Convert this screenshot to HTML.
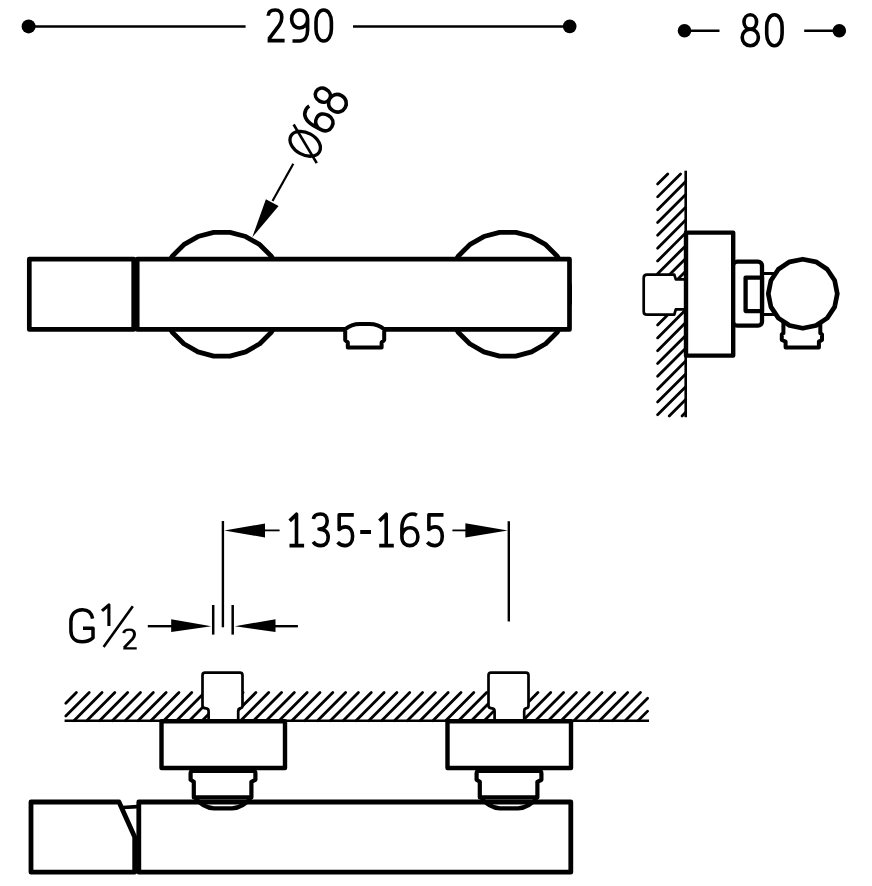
<!DOCTYPE html>
<html><head><meta charset="utf-8"><style>
html,body{margin:0;padding:0;background:#fff;}
svg{display:block;}
</style></head><body>
<svg width="872" height="886" viewBox="0 0 872 886">
<rect width="872" height="886" fill="#fff"/>
<line x1="28.6" y1="26.4" x2="245.6" y2="26.4" stroke="#000" stroke-width="2.5" stroke-linecap="butt"/>
<line x1="353" y1="26.4" x2="569.7" y2="26.4" stroke="#000" stroke-width="2.5" stroke-linecap="butt"/>
<circle cx="28.6" cy="26.4" r="7.0" fill="#000"/>
<circle cx="569.7" cy="26.4" r="6.8" fill="#000"/>
<path transform="translate(268.2,10.0) scale(1.0,1.0) " d="M0,5.8 C0.1,1.9 3,0 7,0 C11.2,0 13.6,2.6 13.6,7.4 C13.6,10.6 12.8,12.8 11,15.4 L0.6,29.2 M-0.6,30.6 L16.4,30.6" fill="none" stroke="#000" stroke-width="3.600" stroke-linecap="butt" stroke-linejoin="round"/>
<path transform="translate(291.6,10.0) scale(1.0,1.0) " d="M16,9 C16,3.6 12.6,0 8,0 C3.4,0 0,3.6 0,9 C0,14.4 3.4,18 8,18 C12.4,18 16,14.6 16,9 L16,20 C16,26.5 13,31 8,31 L0.9,31" fill="none" stroke="#000" stroke-width="3.600" stroke-linecap="butt" stroke-linejoin="round"/>
<path transform="translate(316.0,10.0) scale(1.0,1.0) " d="M7.7,0 C12.2,0 15.4,5 15.4,12 L15.4,19 C15.4,26 12.2,31 7.7,31 C3.2,31 0,26 0,19 L0,12 C0,5 3.2,0 7.7,0 Z" fill="none" stroke="#000" stroke-width="3.600" stroke-linecap="butt" stroke-linejoin="round"/>
<line x1="684.5" y1="30.8" x2="719.5" y2="30.8" stroke="#000" stroke-width="2.5" stroke-linecap="butt"/>
<line x1="804.2" y1="30.8" x2="839.3" y2="30.8" stroke="#000" stroke-width="2.5" stroke-linecap="butt"/>
<circle cx="684.5" cy="30.8" r="6.8" fill="#000"/>
<circle cx="839.3" cy="30.8" r="6.8" fill="#000"/>
<path transform="translate(742.3,14.8) scale(1.0,0.996774193548387) " d="M8,14.4 C4.4,14.4 1.7,11.4 1.7,7.2 C1.7,3 4.4,0 8,0 C11.6,0 14.3,3 14.3,7.2 C14.3,11.4 11.6,14.4 8,14.4 C3.4,14.4 -0.1,17.8 -0.1,22.6 C-0.1,27.6 3.4,31 8,31 C12.6,31 16.1,27.6 16.1,22.6 C16.1,17.8 12.6,14.4 8,14.4 Z" fill="none" stroke="#000" stroke-width="3.600" stroke-linecap="butt" stroke-linejoin="round"/>
<path transform="translate(766.7,14.8) scale(1.0,0.996774193548387) " d="M7.7,0 C12.2,0 15.4,5 15.4,12 L15.4,19 C15.4,26 12.2,31 7.7,31 C3.2,31 0,26 0,19 L0,12 C0,5 3.2,0 7.7,0 Z" fill="none" stroke="#000" stroke-width="3.600" stroke-linecap="butt" stroke-linejoin="round"/>
<polygon points="283.67,302.34 279.45,318.08 271.31,332.19 259.79,343.71 245.68,351.85 229.94,356.07 213.66,356.07 197.92,351.85 183.81,343.71 172.29,332.19 164.15,318.08 159.93,302.34 159.93,286.06 164.15,270.32 172.29,256.21 183.81,244.69 197.92,236.55 213.66,232.33 229.94,232.33 245.68,236.55 259.79,244.69 271.31,256.21 279.45,270.32 283.67,286.06" fill="none" stroke="#000" stroke-width="4.8" stroke-linejoin="round"/>
<polygon points="569.57,302.34 565.35,318.08 557.21,332.19 545.69,343.71 531.58,351.85 515.84,356.07 499.56,356.07 483.82,351.85 469.71,343.71 458.19,332.19 450.05,318.08 445.83,302.34 445.83,286.06 450.05,270.32 458.19,256.21 469.71,244.69 483.82,236.55 499.56,232.33 515.84,232.33 531.58,236.55 545.69,244.69 557.21,256.21 565.35,270.32 569.57,286.06" fill="none" stroke="#000" stroke-width="4.8" stroke-linejoin="round"/>
<rect x="137.2" y="259.2" width="432.3" height="70.2" rx="0" fill="#fff" stroke="#000" stroke-width="4.7" stroke-linejoin="round"/>
<rect x="29.3" y="259.2" width="104.4" height="70.2" rx="0" fill="#fff" stroke="#000" stroke-width="4.7" stroke-linejoin="round"/>
<path d="M345.2,329.3 L345.2,340 L347.8,342.5 L347.8,347.6 L381.6,347.6 L381.6,342.5 L384.2,340 L384.2,329.3 C381,326.5 375,324.1 369.3,324.1 L359.7,324.1 C354,324.1 348.5,326.5 345.2,329.3 Z" fill="#fff" stroke="#000" stroke-width="4.0" stroke-linecap="butt" stroke-linejoin="round"/>
<line x1="293.3" y1="163.7" x2="272.5" y2="201.0" stroke="#000" stroke-width="2.2" stroke-linecap="butt"/>
<polygon points="252.2,237.4 265.9,199.3 278.6,205.9" fill="#000"/>
<g transform="translate(305.2,143.8) rotate(-61)">
<ellipse cx="0" cy="0" rx="11" ry="16.3" fill="none" stroke="#000" stroke-width="3.3"/>
<line x1="11.3" y1="-19.5" x2="-11.3" y2="19.5" stroke="#000" stroke-width="2.6"/>
<path transform="translate(20,-16) scale(1.0,1.0) " d="M15,1.2 C13.6,0.4 12.2,0 10.6,0 C4.2,0 0,5.4 0,14 L0,22.4 C0,28.2 3.4,31 8,31 C12.7,31 16,27.8 16,22.4 C16,16.9 12.9,13.5 8.4,13.5 C4.2,13.5 1.2,16.2 0,20.5" fill="none" stroke="#000" stroke-width="3.600" stroke-linecap="butt" stroke-linejoin="round"/>
<path transform="translate(42.5,-15.8) scale(1.07,1.07) " d="M8,14.4 C4.4,14.4 1.7,11.4 1.7,7.2 C1.7,3 4.4,0 8,0 C11.6,0 14.3,3 14.3,7.2 C14.3,11.4 11.6,14.4 8,14.4 C3.4,14.4 -0.1,17.8 -0.1,22.6 C-0.1,27.6 3.4,31 8,31 C12.6,31 16.1,27.6 16.1,22.6 C16.1,17.8 12.6,14.4 8,14.4 Z" fill="none" stroke="#000" stroke-width="3.364" stroke-linecap="butt" stroke-linejoin="round"/>
</g>
<line x1="657.60" y1="184.05" x2="667.75" y2="173.90" stroke="#000" stroke-width="2.8" stroke-linecap="round"/>
<line x1="657.60" y1="196.87" x2="680.57" y2="173.90" stroke="#000" stroke-width="2.8" stroke-linecap="round"/>
<line x1="657.60" y1="209.69" x2="685.70" y2="181.59" stroke="#000" stroke-width="2.8" stroke-linecap="round"/>
<line x1="657.60" y1="222.51" x2="685.70" y2="194.41" stroke="#000" stroke-width="2.8" stroke-linecap="round"/>
<line x1="657.60" y1="235.33" x2="685.70" y2="207.23" stroke="#000" stroke-width="2.8" stroke-linecap="round"/>
<line x1="657.60" y1="248.15" x2="685.70" y2="220.05" stroke="#000" stroke-width="2.8" stroke-linecap="round"/>
<line x1="657.60" y1="260.97" x2="685.70" y2="232.87" stroke="#000" stroke-width="2.8" stroke-linecap="round"/>
<line x1="657.60" y1="273.79" x2="685.70" y2="245.69" stroke="#000" stroke-width="2.8" stroke-linecap="round"/>
<line x1="657.60" y1="286.61" x2="685.70" y2="258.51" stroke="#000" stroke-width="2.8" stroke-linecap="round"/>
<line x1="657.60" y1="299.43" x2="685.70" y2="271.33" stroke="#000" stroke-width="2.8" stroke-linecap="round"/>
<line x1="657.60" y1="312.25" x2="685.70" y2="284.15" stroke="#000" stroke-width="2.8" stroke-linecap="round"/>
<line x1="657.60" y1="325.07" x2="685.70" y2="296.97" stroke="#000" stroke-width="2.8" stroke-linecap="round"/>
<line x1="657.60" y1="337.89" x2="685.70" y2="309.79" stroke="#000" stroke-width="2.8" stroke-linecap="round"/>
<line x1="657.60" y1="350.71" x2="685.70" y2="322.61" stroke="#000" stroke-width="2.8" stroke-linecap="round"/>
<line x1="657.60" y1="363.53" x2="685.70" y2="335.43" stroke="#000" stroke-width="2.8" stroke-linecap="round"/>
<line x1="657.60" y1="376.35" x2="685.70" y2="348.25" stroke="#000" stroke-width="2.8" stroke-linecap="round"/>
<line x1="657.60" y1="389.17" x2="685.70" y2="361.07" stroke="#000" stroke-width="2.8" stroke-linecap="round"/>
<line x1="657.60" y1="401.99" x2="685.70" y2="373.89" stroke="#000" stroke-width="2.8" stroke-linecap="round"/>
<line x1="657.60" y1="414.81" x2="685.70" y2="386.71" stroke="#000" stroke-width="2.8" stroke-linecap="round"/>
<line x1="669.23" y1="416.00" x2="685.70" y2="399.53" stroke="#000" stroke-width="2.8" stroke-linecap="round"/>
<line x1="682.05" y1="416.00" x2="685.70" y2="412.35" stroke="#000" stroke-width="2.8" stroke-linecap="round"/>
<line x1="685.7" y1="170.7" x2="685.7" y2="417.2" stroke="#000" stroke-width="2.6" stroke-linecap="butt"/>
<path d="M684.5,279.3 L675.8,279.3 L674.3,274.7 L647,274.7 Q643.7,274.7 643.7,278 L643.7,311.4 Q643.7,314.7 647,314.7 L674.3,314.7 L675.8,309.3 L684.5,309.3" fill="#fff" stroke="#000" stroke-width="2.7" stroke-linecap="butt" stroke-linejoin="round"/>
<rect x="686" y="232.6" width="47.2" height="123" rx="0" fill="#fff" stroke="#000" stroke-width="4.4" stroke-linejoin="round"/>
<rect x="733.2" y="261.6" width="28.8" height="64.1" rx="4" fill="#fff" stroke="#000" stroke-width="4.3" stroke-linejoin="round"/>
<rect x="745.6" y="277.6" width="16.4" height="33.5" rx="0" fill="#fff" stroke="#000" stroke-width="4.3" stroke-linejoin="round"/>
<path d="M762,273.6 L775,273.6 M762,314.4 L775,314.4" fill="none" stroke="#000" stroke-width="3.0" stroke-linecap="butt" stroke-linejoin="miter"/>
<path d="M783.4,322 L783.4,333.2 L781.8,334.4 L781.8,340 L785.6,341.6 L785.6,347.5 L818.9,347.5 L818.9,341.6 L822,340 L822,334.4 L820.3,333.2 L820.3,322" fill="#fff" stroke="#000" stroke-width="4.0" stroke-linecap="butt" stroke-linejoin="round"/>
<polygon points="802.80,259.20 816.00,261.83 827.20,269.30 834.67,280.50 837.30,293.70 834.67,306.90 827.20,318.10 816.00,325.57 802.80,328.20 789.60,325.57 778.40,318.10 770.93,306.90 768.30,293.70 770.93,280.50 778.40,269.30 789.60,261.83" fill="#fff" stroke="#000" stroke-width="4.7" stroke-linejoin="round"/>
<line x1="222.9" y1="521" x2="222.9" y2="627.3" stroke="#000" stroke-width="2.4" stroke-linecap="butt"/>
<line x1="508.8" y1="521.2" x2="508.8" y2="621.4" stroke="#000" stroke-width="2.4" stroke-linecap="butt"/>
<polygon points="224.3,530.4 265,523.6 265,537.5" fill="#000"/>
<line x1="264" y1="530.4" x2="279.6" y2="530.4" stroke="#000" stroke-width="1.8" stroke-linecap="butt"/>
<polygon points="507.7,530.4 465.4,523.3 465.4,537.4" fill="#000"/>
<line x1="452.4" y1="530.4" x2="466" y2="530.4" stroke="#000" stroke-width="1.8" stroke-linecap="butt"/>
<path transform="translate(289.5,514.0) scale(1.0,1.0193548387096774) " d="M0.2,6.8 L7,0.2 L7,31 M0,31 L14.6,31" fill="none" stroke="#000" stroke-width="3.600" stroke-linecap="butt" stroke-linejoin="round"/>
<path transform="translate(313.2,514.0) scale(1.0,1.0193548387096774) " d="M0.2,5 C0.6,1.8 3.4,0 7.2,0 C11.4,0 14,2.6 14,6.9 C14,11.4 11,14.6 6.6,14.8 L5.8,14.8 C11.6,14.8 15,17.8 15,22.8 C15,28 12,31 7.6,31 C4.2,31 1.4,29.6 0,27.2" fill="none" stroke="#000" stroke-width="3.600" stroke-linecap="butt" stroke-linejoin="round"/>
<path transform="translate(337.6,514.0) scale(1.0,1.0193548387096774) " d="M16.2,0.8 L1.6,0.8 L1.6,15.2 C3.4,13.4 5.6,12.6 8,12.6 C12.4,12.6 15,16.4 15,21.8 C15,27.6 12,31 7.6,31 C4.4,31 1.8,29.8 0,27.8" fill="none" stroke="#000" stroke-width="3.600" stroke-linecap="butt" stroke-linejoin="round"/>
<path d="M360.2,532 L371,532" stroke="#000" stroke-width="4" fill="none"/>
<path transform="translate(379.2,514.0) scale(1.0,1.0193548387096774) " d="M0.2,6.8 L7,0.2 L7,31 M0,31 L14.6,31" fill="none" stroke="#000" stroke-width="3.600" stroke-linecap="butt" stroke-linejoin="round"/>
<path transform="translate(401.9,514.0) scale(1.0,1.0193548387096774) " d="M15,1.2 C13.6,0.4 12.2,0 10.6,0 C4.2,0 0,5.4 0,14 L0,22.4 C0,28.2 3.4,31 8,31 C12.7,31 16,27.8 16,22.4 C16,16.9 12.9,13.5 8.4,13.5 C4.2,13.5 1.2,16.2 0,20.5" fill="none" stroke="#000" stroke-width="3.600" stroke-linecap="butt" stroke-linejoin="round"/>
<path transform="translate(427.3,514.0) scale(1.0,1.0193548387096774) " d="M16.2,0.8 L1.6,0.8 L1.6,15.2 C3.4,13.4 5.6,12.6 8,12.6 C12.4,12.6 15,16.4 15,21.8 C15,27.6 12,31 7.6,31 C4.4,31 1.8,29.8 0,27.8" fill="none" stroke="#000" stroke-width="3.600" stroke-linecap="butt" stroke-linejoin="round"/>
<line x1="213.2" y1="605" x2="213.2" y2="634.6" stroke="#000" stroke-width="2.5" stroke-linecap="butt"/>
<line x1="232.7" y1="605" x2="232.7" y2="634.6" stroke="#000" stroke-width="2.5" stroke-linecap="butt"/>
<line x1="147.8" y1="626.2" x2="172" y2="626.2" stroke="#000" stroke-width="2.4" stroke-linecap="butt"/>
<polygon points="211.4,626.2 171.2,619.3 171.2,632" fill="#000"/>
<line x1="275" y1="626.2" x2="297.9" y2="626.2" stroke="#000" stroke-width="2.4" stroke-linecap="butt"/>
<polygon points="234.8,626.2 275.5,619.3 275.5,632" fill="#000"/>
<path d="M92.6,618.6 C91.5,612.6 88,609.7 82.5,609.7 C75,609.7 70.9,614.5 70.9,621.5 L70.9,630.5 C70.9,637.5 75,641.8 82,641.8 C87,641.8 90.5,640.3 93,637.8 L93,628.2 L83,628.2" fill="none" stroke="#000" stroke-width="3.5" stroke-linejoin="round"/>
<path d="M102,610.8 L108.9,604.8 L108.9,626" fill="none" stroke="#000" stroke-width="3.1" stroke-linejoin="round"/>
<line x1="103.6" y1="647" x2="132.8" y2="606.3" stroke="#000" stroke-width="2.6" stroke-linecap="butt"/>
<path transform="translate(123.8,629.6) scale(0.7875,0.6125) " d="M0,5.8 C0.1,1.9 3,0 7,0 C11.2,0 13.6,2.6 13.6,7.4 C13.6,10.6 12.8,12.8 11,15.4 L0.6,29.2 M-0.6,30.6 L16.4,30.6" fill="none" stroke="#000" stroke-width="3.810" stroke-linecap="butt" stroke-linejoin="round"/>
<line x1="76.40" y1="692.60" x2="65.80" y2="703.20" stroke="#000" stroke-width="2.8" stroke-linecap="round"/>
<line x1="89.22" y1="692.60" x2="65.80" y2="716.02" stroke="#000" stroke-width="2.8" stroke-linecap="round"/>
<line x1="102.04" y1="692.60" x2="73.94" y2="720.70" stroke="#000" stroke-width="2.8" stroke-linecap="round"/>
<line x1="114.86" y1="692.60" x2="86.76" y2="720.70" stroke="#000" stroke-width="2.8" stroke-linecap="round"/>
<line x1="127.68" y1="692.60" x2="99.58" y2="720.70" stroke="#000" stroke-width="2.8" stroke-linecap="round"/>
<line x1="140.50" y1="692.60" x2="112.40" y2="720.70" stroke="#000" stroke-width="2.8" stroke-linecap="round"/>
<line x1="153.32" y1="692.60" x2="125.22" y2="720.70" stroke="#000" stroke-width="2.8" stroke-linecap="round"/>
<line x1="166.14" y1="692.60" x2="138.04" y2="720.70" stroke="#000" stroke-width="2.8" stroke-linecap="round"/>
<line x1="178.96" y1="692.60" x2="150.86" y2="720.70" stroke="#000" stroke-width="2.8" stroke-linecap="round"/>
<line x1="191.78" y1="692.60" x2="163.68" y2="720.70" stroke="#000" stroke-width="2.8" stroke-linecap="round"/>
<line x1="204.60" y1="692.60" x2="176.50" y2="720.70" stroke="#000" stroke-width="2.8" stroke-linecap="round"/>
<line x1="217.42" y1="692.60" x2="189.32" y2="720.70" stroke="#000" stroke-width="2.8" stroke-linecap="round"/>
<line x1="230.24" y1="692.60" x2="202.14" y2="720.70" stroke="#000" stroke-width="2.8" stroke-linecap="round"/>
<line x1="243.06" y1="692.60" x2="214.96" y2="720.70" stroke="#000" stroke-width="2.8" stroke-linecap="round"/>
<line x1="255.88" y1="692.60" x2="227.78" y2="720.70" stroke="#000" stroke-width="2.8" stroke-linecap="round"/>
<line x1="268.70" y1="692.60" x2="240.60" y2="720.70" stroke="#000" stroke-width="2.8" stroke-linecap="round"/>
<line x1="281.52" y1="692.60" x2="253.42" y2="720.70" stroke="#000" stroke-width="2.8" stroke-linecap="round"/>
<line x1="294.34" y1="692.60" x2="266.24" y2="720.70" stroke="#000" stroke-width="2.8" stroke-linecap="round"/>
<line x1="307.16" y1="692.60" x2="279.06" y2="720.70" stroke="#000" stroke-width="2.8" stroke-linecap="round"/>
<line x1="319.98" y1="692.60" x2="291.88" y2="720.70" stroke="#000" stroke-width="2.8" stroke-linecap="round"/>
<line x1="332.80" y1="692.60" x2="304.70" y2="720.70" stroke="#000" stroke-width="2.8" stroke-linecap="round"/>
<line x1="345.62" y1="692.60" x2="317.52" y2="720.70" stroke="#000" stroke-width="2.8" stroke-linecap="round"/>
<line x1="358.44" y1="692.60" x2="330.34" y2="720.70" stroke="#000" stroke-width="2.8" stroke-linecap="round"/>
<line x1="371.26" y1="692.60" x2="343.16" y2="720.70" stroke="#000" stroke-width="2.8" stroke-linecap="round"/>
<line x1="384.08" y1="692.60" x2="355.98" y2="720.70" stroke="#000" stroke-width="2.8" stroke-linecap="round"/>
<line x1="396.90" y1="692.60" x2="368.80" y2="720.70" stroke="#000" stroke-width="2.8" stroke-linecap="round"/>
<line x1="409.72" y1="692.60" x2="381.62" y2="720.70" stroke="#000" stroke-width="2.8" stroke-linecap="round"/>
<line x1="422.54" y1="692.60" x2="394.44" y2="720.70" stroke="#000" stroke-width="2.8" stroke-linecap="round"/>
<line x1="435.36" y1="692.60" x2="407.26" y2="720.70" stroke="#000" stroke-width="2.8" stroke-linecap="round"/>
<line x1="448.18" y1="692.60" x2="420.08" y2="720.70" stroke="#000" stroke-width="2.8" stroke-linecap="round"/>
<line x1="461.00" y1="692.60" x2="432.90" y2="720.70" stroke="#000" stroke-width="2.8" stroke-linecap="round"/>
<line x1="473.82" y1="692.60" x2="445.72" y2="720.70" stroke="#000" stroke-width="2.8" stroke-linecap="round"/>
<line x1="486.64" y1="692.60" x2="458.54" y2="720.70" stroke="#000" stroke-width="2.8" stroke-linecap="round"/>
<line x1="499.46" y1="692.60" x2="471.36" y2="720.70" stroke="#000" stroke-width="2.8" stroke-linecap="round"/>
<line x1="512.28" y1="692.60" x2="484.18" y2="720.70" stroke="#000" stroke-width="2.8" stroke-linecap="round"/>
<line x1="525.10" y1="692.60" x2="497.00" y2="720.70" stroke="#000" stroke-width="2.8" stroke-linecap="round"/>
<line x1="537.92" y1="692.60" x2="509.82" y2="720.70" stroke="#000" stroke-width="2.8" stroke-linecap="round"/>
<line x1="550.74" y1="692.60" x2="522.64" y2="720.70" stroke="#000" stroke-width="2.8" stroke-linecap="round"/>
<line x1="563.56" y1="692.60" x2="535.46" y2="720.70" stroke="#000" stroke-width="2.8" stroke-linecap="round"/>
<line x1="576.38" y1="692.60" x2="548.28" y2="720.70" stroke="#000" stroke-width="2.8" stroke-linecap="round"/>
<line x1="589.20" y1="692.60" x2="561.10" y2="720.70" stroke="#000" stroke-width="2.8" stroke-linecap="round"/>
<line x1="602.02" y1="692.60" x2="573.92" y2="720.70" stroke="#000" stroke-width="2.8" stroke-linecap="round"/>
<line x1="614.84" y1="692.60" x2="586.74" y2="720.70" stroke="#000" stroke-width="2.8" stroke-linecap="round"/>
<line x1="627.66" y1="692.60" x2="599.56" y2="720.70" stroke="#000" stroke-width="2.8" stroke-linecap="round"/>
<line x1="640.48" y1="692.60" x2="612.38" y2="720.70" stroke="#000" stroke-width="2.8" stroke-linecap="round"/>
<line x1="647.60" y1="698.30" x2="625.20" y2="720.70" stroke="#000" stroke-width="2.8" stroke-linecap="round"/>
<line x1="647.60" y1="711.12" x2="638.02" y2="720.70" stroke="#000" stroke-width="2.8" stroke-linecap="round"/>
<line x1="64.6" y1="720.8" x2="649" y2="720.8" stroke="#000" stroke-width="2.6" stroke-linecap="butt"/>
<path d="M208.6,719.5 L208.6,711.2 Q208.6,708.8 206.2,708.4 L204.6,708.1 Q202.5,707.7 202.5,705.5 L202.5,675.2 Q202.5,672.6 205.1,672.6 L239.9,672.6 Q242.5,672.6 242.5,675.2 L242.5,705.6 Q242.5,707.8 240.6,708.2 L239.8,708.4 Q238.2,708.9 238.2,711 L238.2,719.5" fill="#fff" stroke="#000" stroke-width="2.7" stroke-linecap="butt" stroke-linejoin="round"/>
<rect x="161.5" y="721.2" width="123.5" height="46.8" rx="0" fill="#fff" stroke="#000" stroke-width="4.4" stroke-linejoin="round"/>
<path d="M494.6,719.5 L494.6,711.2 Q494.6,708.8 492.2,708.4 L490.6,708.1 Q488.5,707.7 488.5,705.5 L488.5,675.2 Q488.5,672.6 491.1,672.6 L525.9,672.6 Q528.5,672.6 528.5,675.2 L528.5,705.6 Q528.5,707.8 526.6,708.2 L525.8,708.4 Q524.2,708.9 524.2,711 L524.2,719.5" fill="#fff" stroke="#000" stroke-width="2.7" stroke-linecap="butt" stroke-linejoin="round"/>
<rect x="447.5" y="721.2" width="123.5" height="46.8" rx="0" fill="#fff" stroke="#000" stroke-width="4.4" stroke-linejoin="round"/>
<rect x="138.8" y="802" width="432" height="70.2" rx="0" fill="#fff" stroke="#000" stroke-width="4.8" stroke-linejoin="round"/>
<path d="M31,872.2 L31,802 L119,802 L134.7,836.9 L134.7,872.2 Z" fill="#fff" stroke="#000" stroke-width="4.8" stroke-linecap="butt" stroke-linejoin="round"/>
<path d="M122.8,807.5 L137.4,806.6" fill="none" stroke="#000" stroke-width="3.6" stroke-linecap="butt" stroke-linejoin="miter"/>
<path d="M193.8,797.4 L193.8,781.8 L190.6,779.8 L190.6,773.2 Q190.6,771 192.8,771 L253.2,771 Q255.4,771 255.4,773.2 L255.4,779.8 L251.4,781.8 L251.4,797.4 Z" fill="#fff" stroke="#000" stroke-width="4.2" stroke-linecap="butt" stroke-linejoin="round"/>
<path d="M195,798.6 C200,803 206,808.3 214,808.3 L232,808.3 C240,808.3 246,803 251,798.6" fill="none" stroke="#000" stroke-width="4.2" stroke-linecap="butt" stroke-linejoin="round"/>
<path d="M479.8,797.4 L479.8,781.8 L476.6,779.8 L476.6,773.2 Q476.6,771 478.8,771 L539.2,771 Q541.4,771 541.4,773.2 L541.4,779.8 L537.4,781.8 L537.4,797.4 Z" fill="#fff" stroke="#000" stroke-width="4.2" stroke-linecap="butt" stroke-linejoin="round"/>
<path d="M481,798.6 C486,803 492,808.3 500,808.3 L518,808.3 C526,808.3 532,803 537,798.6" fill="none" stroke="#000" stroke-width="4.2" stroke-linecap="butt" stroke-linejoin="round"/>
</svg>
</body></html>
